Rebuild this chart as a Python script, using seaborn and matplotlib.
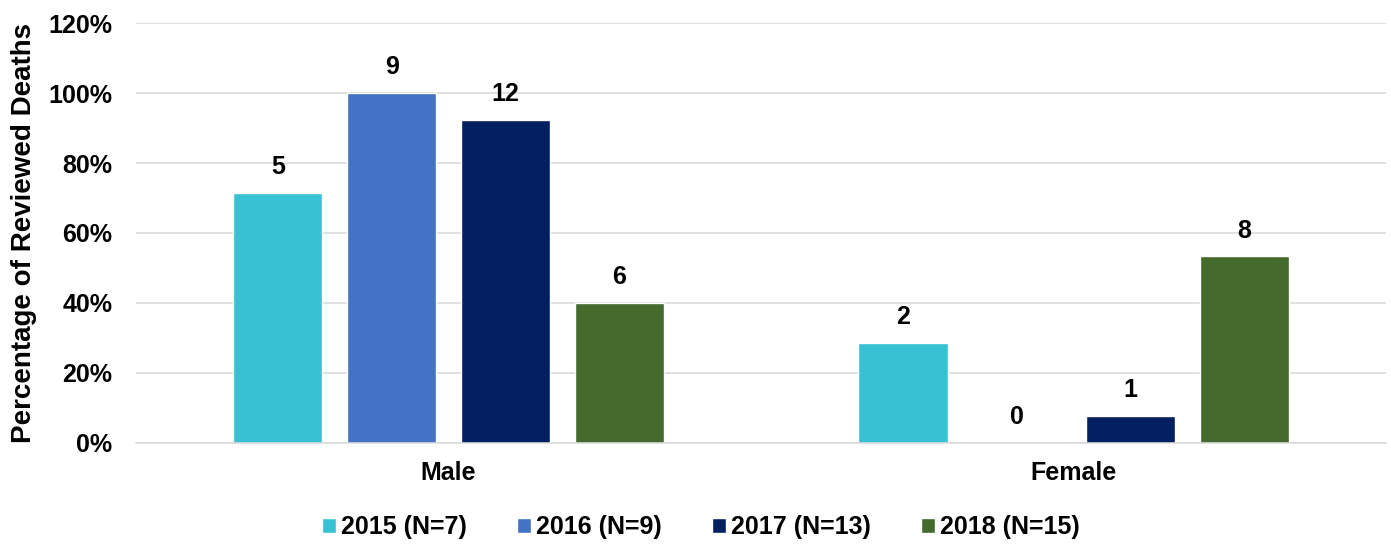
import pandas as pd
import matplotlib.pyplot as plt
import seaborn as sns

# === Data ===
sexes = ["Male", "Female"]
years = ["2015 (N=7)", "2016 (N=9)", "2017 (N=13)", "2018 (N=15)"]
pct_male = [71.4, 100.0, 92.3, 40.0]
pct_female = [28.6, 0.0, 7.7, 53.3]
count_male = [5, 9, 12, 6]
count_female = [2, 0, 1, 8]
colors = ["#36C2D3", "#4472C4", "#022060", "#446A2E"]

df = pd.DataFrame({
    "Sex": ["Male"] * 4 + ["Female"] * 4,
    "Year": years * 2,
    "Pct": pct_male + pct_female,
    "Count": count_male + count_female,
})

sns.set_style("white")
plt.rcParams["font.family"] = ["Liberation Sans", "DejaVu Sans"]
plt.rcParams["font.weight"] = "bold"
for key in ["text.color", "axes.labelcolor", "xtick.color", "ytick.color"]:
    plt.rcParams[key] = "black"

fig = plt.figure(figsize=(13.91, 5.44), dpi=100)
ax = fig.add_axes([0.0978, 0.1857, 0.8987, 0.772])

sns.barplot(data=df, x="Sex", y="Pct", hue="Year", order=sexes, hue_order=years,
            palette=colors, width=0.728, gap=0.217, saturation=1, ax=ax, errorbar=None)

# count labels above bars
for cont, yr in zip(ax.containers, years):
    sub = df[df["Year"] == yr].set_index("Sex").loc[sexes]
    ax.bar_label(cont, labels=[str(c) for c in sub["Count"]], padding=10,
                 fontsize=18, fontweight="bold")

ax.set_ylim(0, 120)
ax.set_xlim(-0.5, 1.5)
ax.set_yticks(range(0, 121, 20))
ax.set_yticklabels([f"{v}%" for v in range(0, 121, 20)], fontsize=18, fontweight="bold")
ax.set_xticks([0, 1])
ax.set_xticklabels(sexes, fontsize=18, fontweight="bold")
ax.tick_params(axis="y", length=0, pad=17)
ax.tick_params(axis="x", length=0, pad=13)
ax.set_xlabel("")
ax.set_ylabel("Percentage of Reviewed Deaths", fontsize=20, fontweight="bold", labelpad=8)

ax.yaxis.grid(True, color="#D9D9D9", linewidth=1.1)
ax.set_axisbelow(True)
for s in ["top", "right", "left"]:
    ax.spines[s].set_visible(False)
ax.spines["bottom"].set_color("#D9D9D9")
ax.spines["bottom"].set_linewidth(1.1)

ax.legend(loc="center", bbox_to_anchor=(0.452, -0.2), ncol=4, frameon=False,
          handlelength=0.56, handleheight=0.56, handletextpad=0.2, columnspacing=2.0,
          prop={"size": 18, "weight": "bold"})

fig.savefig("out.png", dpi=100)
